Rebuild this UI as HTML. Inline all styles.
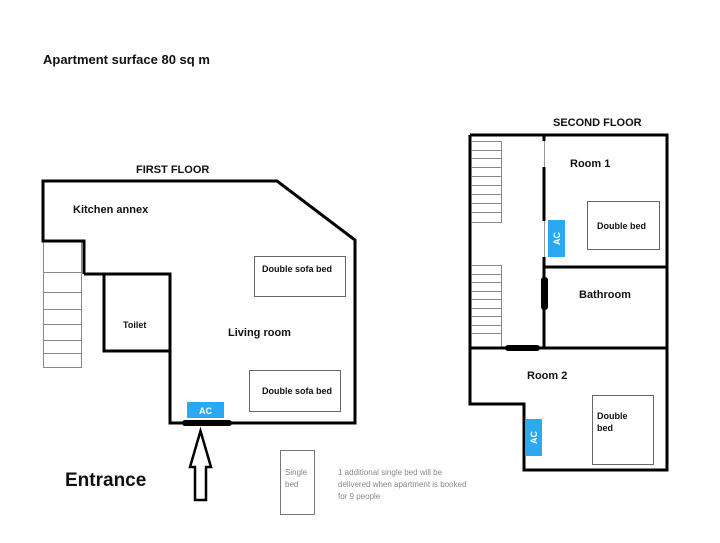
<!DOCTYPE html>
<html><head><style>body{margin:0;background:#fff}svg{display:block}</style></head><body>
<svg width="720" height="543" viewBox="0 0 720 543" xmlns="http://www.w3.org/2000/svg" font-family="Liberation Sans, sans-serif">
<rect width="720" height="543" fill="#fff"/>
<text x="43" y="64" font-size="13" font-weight="bold" fill="#111">Apartment surface 80 sq m</text>
<text x="136" y="173" font-size="11" font-weight="bold" fill="#111">FIRST FLOOR</text>
<text x="553" y="126" font-size="11" font-weight="bold" fill="#111">SECOND FLOOR</text>
<g stroke="#888" stroke-width="1" fill="none">
<rect x="43.5" y="241.5" width="38" height="126"/>
<line x1="43" y1="272.5" x2="82" y2="272.5"/><line x1="43" y1="292.5" x2="82" y2="292.5"/>
<line x1="43" y1="309.5" x2="82" y2="309.5"/><line x1="43" y1="324.5" x2="82" y2="324.5"/>
<line x1="43" y1="340.5" x2="82" y2="340.5"/><line x1="43" y1="353.5" x2="82" y2="353.5"/>
</g>
<g stroke="#000" stroke-width="3" fill="none">
<polyline points="84,274 84,241 43,241 43,181 277,181 355,240 355,423 170,423 170,274 104,274 104,351 170,351"/>
<line x1="84" y1="274" x2="104" y2="274"/>
</g>
<rect x="254.5" y="256.5" width="91" height="40" fill="none" stroke="#666"/>
<rect x="249.5" y="370.5" width="91" height="41" fill="none" stroke="#666"/>
<text x="262" y="272" font-size="9" font-weight="bold" fill="#111">Double sofa bed</text>
<text x="262" y="394" font-size="9" font-weight="bold" fill="#111">Double sofa bed</text>
<text x="73" y="213" font-size="11" font-weight="bold" fill="#111">Kitchen annex</text>
<text x="123" y="328" font-size="9" font-weight="bold" fill="#111">Toilet</text>
<text x="228" y="336" font-size="11" font-weight="bold" fill="#111">Living room</text>
<rect x="187" y="402" width="37" height="16" fill="#2aa8f2"/>
<text x="205.5" y="414" font-size="9" font-weight="bold" fill="#fff" text-anchor="middle">AC</text>
<rect x="182" y="420" width="50" height="6" rx="3" fill="#000"/>
<polygon points="200.5,431 211,467 206,467 206,500 195,500 195,467 190,467" fill="#fff" stroke="#000" stroke-width="2.5" stroke-linejoin="miter"/>
<text x="65" y="486" font-size="19" font-weight="bold" fill="#111">Entrance</text>
<rect x="280.5" y="450.5" width="34" height="64" fill="none" stroke="#777"/>
<text x="285" y="475" font-size="8" fill="#888">Single</text>
<text x="285" y="487" font-size="8" fill="#888">bed</text>
<text x="338" y="475" font-size="8" fill="#888">1 additional single bed will be</text>
<text x="338" y="487" font-size="8" fill="#888">delivered when apartment is booked</text>
<text x="338" y="499" font-size="8" fill="#888">for 9 people</text>
<g stroke="#888" stroke-width="1" fill="none">
<polyline points="472,141.5 501.5,141.5 501.5,222.5 472,222.5"/>
<line x1="472" y1="150.5" x2="501" y2="150.5"/><line x1="472" y1="158.5" x2="501" y2="158.5"/>
<line x1="472" y1="167.5" x2="501" y2="167.5"/><line x1="472" y1="176.5" x2="501" y2="176.5"/>
<line x1="472" y1="185.5" x2="501" y2="185.5"/><line x1="472" y1="194.5" x2="501" y2="194.5"/>
<line x1="472" y1="203.5" x2="501" y2="203.5"/><line x1="472" y1="212.5" x2="501" y2="212.5"/>
<polyline points="472,265.5 501.5,265.5 501.5,348"/>
<line x1="472" y1="274.5" x2="501" y2="274.5"/><line x1="472" y1="282.5" x2="501" y2="282.5"/>
<line x1="472" y1="291.5" x2="501" y2="291.5"/><line x1="472" y1="299.5" x2="501" y2="299.5"/>
<line x1="472" y1="308.5" x2="501" y2="308.5"/><line x1="472" y1="316.5" x2="501" y2="316.5"/>
<line x1="472" y1="325.5" x2="501" y2="325.5"/><line x1="472" y1="333.5" x2="501" y2="333.5"/>
<line x1="544.5" y1="135" x2="544.5" y2="267" stroke="#999"/>
</g>
<g stroke="#000" stroke-width="3" fill="none">
<polyline points="470,135 667,135 667,470 524,470 524,404 470,404 470,135"/>
<line x1="470" y1="348" x2="667" y2="348"/>
<line x1="544" y1="267" x2="667" y2="267"/>
<line x1="544" y1="257" x2="544" y2="348"/>
<line x1="544" y1="135" x2="544" y2="141"/>
<line x1="544" y1="167" x2="544" y2="221"/>
</g>
<rect x="541" y="277" width="7" height="33" rx="3" fill="#000"/>
<rect x="505" y="345" width="35" height="6" rx="3" fill="#000"/>
<rect x="548" y="220" width="17" height="37" fill="#2aa8f2"/>
<text transform="translate(560,238.5) rotate(-90)" font-size="9" font-weight="bold" fill="#fff" text-anchor="middle">AC</text>
<rect x="525" y="419" width="17" height="37" fill="#2aa8f2"/>
<text transform="translate(537,437.5) rotate(-90)" font-size="9" font-weight="bold" fill="#fff" text-anchor="middle">AC</text>
<rect x="587.5" y="201.5" width="72" height="48" fill="none" stroke="#666"/>
<text x="597" y="229" font-size="9" font-weight="bold" fill="#111">Double bed</text>
<rect x="592.5" y="395.5" width="61" height="69" fill="none" stroke="#666"/>
<text x="597" y="419" font-size="9" font-weight="bold" fill="#111">Double</text>
<text x="597" y="431" font-size="9" font-weight="bold" fill="#111">bed</text>
<text x="570" y="167" font-size="11" font-weight="bold" fill="#111">Room 1</text>
<text x="579" y="298" font-size="11" font-weight="bold" fill="#111">Bathroom</text>
<text x="527" y="379" font-size="11" font-weight="bold" fill="#111">Room 2</text>
</svg>
</body></html>
